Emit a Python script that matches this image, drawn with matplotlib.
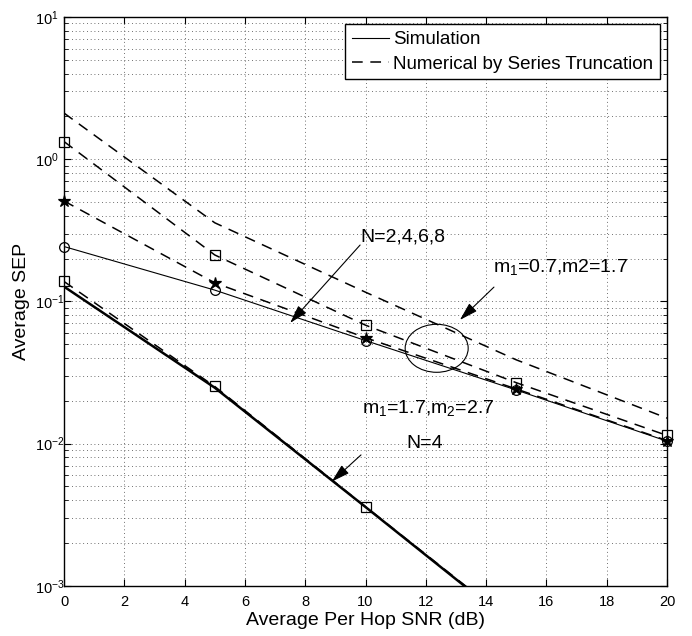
"""
Average SEP vs per-hop SNR: simulation against series truncation
"""

import numpy as np
import matplotlib
matplotlib.use("Agg")
import matplotlib.pyplot as plt
from matplotlib.patches import Ellipse

plt.rcParams["font.family"] = ["Liberation Sans", "DejaVu Sans"]
plt.rcParams["mathtext.fontset"] = "custom"
plt.rcParams["mathtext.rm"] = "Liberation Sans"
plt.rcParams["mathtext.it"] = "Liberation Sans:italic"
plt.rcParams["mathtext.default"] = "regular"

# SNR points (dB)
snr = [0, 5, 10, 15, 20]

# m1=0.7, m2=1.7 group (N=2,4,6,8)
num_top = [2.11, 0.357, 0.116, 0.0388, 0.0151]
num_sq = [1.33, 0.212, 0.068, 0.0268, 0.0114]
num_star = [0.508, 0.135, 0.0555, 0.0242, 0.0105]
sim_circ = [0.243, 0.12, 0.053, 0.0238, 0.0104]

# m1=1.7, m2=2.7 group (N=4)
num_low = [0.138, 0.0252, 0.0036, 0.00052, 0.000075]
sim_low = [0.127, 0.0247, 0.00358, 0.00051, 0.000074]

YMIN, YMAX = 1e-3, 1e1
DASH = (0, (7, 5))
FS = 14


def plot_series(ax, y, ls, lw, marker=None, mfc="none", ms=7):
    ax.plot(snr, y, color="k", linestyle=ls, linewidth=lw)
    if marker is None:
        return
    x = np.array(snr)
    y = np.array(y)
    keep = (y >= YMIN) & (y <= YMAX)
    ax.plot(x[keep], y[keep], linestyle="none", marker=marker, ms=ms,
            mfc=mfc, mec="k", mew=0.9, clip_on=False, zorder=4)


fig = plt.figure(figsize=(6.92, 6.36), dpi=100)
ax = fig.add_axes([0.0925, 0.079, 0.8714, 0.8943])

plot_series(ax, num_top, DASH, 1.1)
plot_series(ax, num_sq, DASH, 1.1, marker="s")
plot_series(ax, num_star, DASH, 1.1, marker="*", mfc="k", ms=9)
plot_series(ax, sim_circ, "-", 0.8, marker="o")
plot_series(ax, num_low, DASH, 1.1, marker="s")
plot_series(ax, sim_low, "-", 1.8)

# legend proxies
ax.plot([], [], color="k", lw=0.8, ls="-", label="Simulation")
ax.plot([], [], color="k", lw=1.1, ls=DASH, label="Numerical by Series Truncation")

ax.set_yscale("log")
ax.set_xlim(0, 20)
ax.set_ylim(YMIN, YMAX)
ax.set_xticks(np.arange(0, 21, 2))

ax.grid(True, which="major", axis="both", color="0.25", linestyle=(0, (1, 3.5)), linewidth=0.6)
ax.grid(True, which="minor", axis="y", color="0.25", linestyle=(0, (1, 3.5)), linewidth=0.6)

ax.tick_params(which="both", direction="in", top=True, right=True, labelsize=10.5)
ax.tick_params(which="major", length=5, width=0.8)
ax.tick_params(which="minor", length=3, width=0.6)
ax.tick_params(axis="x", pad=7)
ax.tick_params(axis="y", pad=21)
for lab in ax.get_yticklabels():
    lab.set_horizontalalignment("left")
for sp in ax.spines.values():
    sp.set_linewidth(1.0)

ax.set_xlabel("Average Per Hop SNR (dB)", fontsize=FS)
ax.set_ylabel("Average SEP", fontsize=FS)
ax.xaxis.set_label_coords(0.5, -0.046)
ax.yaxis.set_label_coords(-0.056, 0.5)

leg = ax.legend(loc="upper right", fontsize=13.5, handlelength=2.0,
                handletextpad=0.2, borderpad=0.35, labelspacing=0.4,
                fancybox=False, framealpha=1, edgecolor="k",
                borderaxespad=0.4)
leg.get_frame().set_linewidth(1.0)

# annotations
arrow = dict(arrowstyle="-|>,head_length=0.75,head_width=0.22", color="k",
             lw=0.8, shrinkA=0, shrinkB=0, mutation_scale=15)

ax.text(9.82, 0.263, "N=2,4,6,8", fontsize=FS, ha="left", va="baseline")
ax.annotate("", xy=(7.50, 0.0705), xytext=(9.82, 0.249), arrowprops=arrow)

ax.text(14.23, 0.161, "m$_1$=0.7,m2=1.7", fontsize=FS, ha="left", va="baseline")
ax.annotate("", xy=(13.13, 0.074), xytext=(14.26, 0.126), arrowprops=arrow)

ax.text(9.87, 0.0165, "m$_1$=1.7,m$_2$=2.7", fontsize=FS, ha="left", va="baseline")
ax.text(11.37, 0.00927, "N=4", fontsize=FS, ha="left", va="baseline")
ax.annotate("", xy=(8.88, 0.0054), xytext=(9.85, 0.00832), arrowprops=arrow)

ax.add_patch(Ellipse((0.618, 0.4175), 0.1045, 0.0844, transform=ax.transAxes,
                     fill=False, edgecolor="k", lw=0.8))

fig.savefig("out.png", dpi=100)
